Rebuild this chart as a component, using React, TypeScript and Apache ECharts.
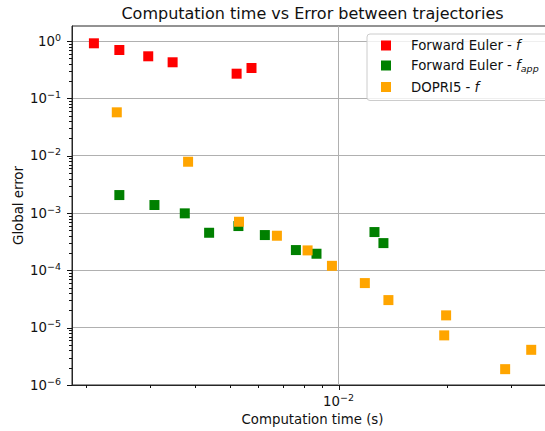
import React, { useEffect, useRef } from 'react';
import * as echarts from 'echarts';

const FONT = '"DejaVu Sans", "Liberation Sans", sans-serif';
const INK = '#111111';

// Forward Euler with the exact right-hand side f
const eulerTime = [0.0021, 0.00247, 0.00297, 0.00347, 0.00522, 0.00574];
const eulerError = [0.915, 0.699, 0.543, 0.427, 0.27, 0.339];

// Forward Euler with the approximated right-hand side f_app
const eulerAppTime = [0.00247, 0.00309, 0.00375, 0.00438, 0.00528, 0.00625, 0.00762, 0.00869, 0.01258, 0.01332];
const eulerAppError = [2.06e-3, 1.38e-3, 9.88e-4, 4.53e-4, 5.93e-4, 4.13e-4, 2.26e-4, 1.95e-4, 4.66e-4, 2.99e-4];

// DOPRI5 with the exact right-hand side f
const dopriTime = [0.00243, 0.00383, 0.0053, 0.00675, 0.00821, 0.00959, 0.01183, 0.01375, 0.01987, 0.01963, 0.02896, 0.0342];
const dopriError = [5.72e-2, 7.86e-3, 7.05e-4, 4.02e-4, 2.23e-4, 1.2e-4, 6.0e-5, 3.03e-5, 1.64e-5, 7.34e-6, 1.89e-6, 4.11e-6];

const seriesNames = ['Forward Euler - f', 'Forward Euler - f_app', 'DOPRI5 - f'];
const seriesColors = ['#ff0000', '#008000', '#ffa500'];

const legendText: Record<string, string> = {
  'Forward Euler - f': '{g| }{t|Forward Euler - }{i|f}',
  'Forward Euler - f_app': '{g| }{t|Forward Euler - }{i|f}{s|app}',
  'DOPRI5 - f': '{g| }{t|DOPRI5 - }{i|f}',
};

// axis extents
const X_MIN = 1.826e-3;
const X_MAX = 0.0393;
const Y_MIN = 1e-6;
const Y_MAX = 1.834;

// decade tick marks (log axes)
const xMajorTicks = [1e-2];
const yMajorTicks = [1e-6, 1e-5, 1e-4, 1e-3, 1e-2, 1e-1, 1];

function minorTicks(lo: number, hi: number): number[] {
  const out: number[] = [];
  for (let k = -7; k <= 1; k++) {
    for (let m = 2; m <= 9; m++) {
      const v = m * Math.pow(10, k);
      if (v > lo && v < hi) out.push(v);
    }
  }
  return out;
}

const powLabel = (v: number) => {
  const e = Math.round(Math.log10(v));
  const exp = e < 0 ? '\u2212' + Math.abs(e) : String(e);
  return `{b|10}{e|${exp}}`;
};

const tickRich = {
  b: { fontFamily: FONT, fontSize: 13.3, color: INK, lineHeight: 18 },
  e: { fontFamily: FONT, fontSize: 9.5, color: INK, lineHeight: 11, verticalAlign: 'top' },
};

export default function App() {
  const ref = useRef<HTMLDivElement>(null);

  useEffect(() => {
    if (!ref.current) return;
    const chart = echarts.init(ref.current, undefined, { renderer: 'svg' });

    const scatter = (name: string, xs: number[], ys: number[], color: string) => ({
      type: 'scatter',
      name,
      data: xs.map((x, i) => [x, ys[i]]),
      symbol: 'rect',
      symbolSize: 10,
      itemStyle: { color, opacity: 1 },
      emphasis: { disabled: true },
      z: 3,
    });

    const tickSeries = (axis: 'x' | 'y', majors: number[], minors: number[]) => ({
      type: 'custom',
      silent: true,
      clip: false,
      z: 6,
      data: [
        ...majors.map((v) => (axis === 'x' ? [v, Y_MIN, 5] : [X_MIN, v, 5])),
        ...minors.map((v) => (axis === 'x' ? [v, Y_MIN, 3] : [X_MIN, v, 3])),
      ],
      renderItem: (_params: any, api: any) => {
        const p = api.coord([api.value(0), api.value(1)]);
        const len = api.value(2);
        if (axis === 'x') {
          const x = Math.round(p[0]) + 0.5;
          const y = Math.round(p[1]);
          return { type: 'line', shape: { x1: x, y1: y, x2: x, y2: y + len }, style: { stroke: INK, lineWidth: 1 } };
        }
        const y = Math.round(p[1]) + 0.5;
        const x = Math.round(p[0]);
        return { type: 'line', shape: { x1: x, y1: y, x2: x - len, y2: y }, style: { stroke: INK, lineWidth: 1 } };
      },
    });

    chart.setOption({
      animation: false,
      backgroundColor: '#ffffff',
      textStyle: { fontFamily: FONT },
      graphic: [
        {
          type: 'text',
          x: 312.5,
          y: 13,
          style: {
            text: 'Computation time vs Error between trajectories',
            fontFamily: FONT,
            fontSize: 16,
            fill: INK,
            align: 'center',
            verticalAlign: 'middle',
          },
        },
      ],
      grid: {
        left: 72,
        top: 26,
        right: -8,
        bottom: 46,
        show: true,
        borderColor: '#262626',
        borderWidth: 1,
        outerBoundsMode: 'none',
      },
      legend: {
        data: seriesNames,
        orient: 'vertical',
        left: 367,
        top: 34,
        padding: [5, 40, 7, 14],
        itemWidth: 10,
        itemHeight: 10,
        itemGap: 7,
        icon: 'rect',
        borderColor: '#cccccc',
        borderWidth: 1,
        borderRadius: 3,
        backgroundColor: 'rgba(255,255,255,0.8)',
        formatter: (name: string) => legendText[name] ?? name,
        textStyle: {
          fontFamily: FONT,
          fontSize: 13.3,
          color: INK,
          rich: {
            g: { width: 15, fontSize: 13.3, lineHeight: 16 },
            t: { fontFamily: FONT, fontSize: 13.3, color: INK, lineHeight: 16 },
            i: { fontFamily: FONT, fontSize: 13.3, fontStyle: 'italic', color: INK, lineHeight: 16 },
            s: { fontFamily: FONT, fontSize: 9.5, fontStyle: 'italic', color: INK, lineHeight: 11, verticalAlign: 'bottom' },
          },
        },
      },
      xAxis: {
        type: 'log',
        logBase: 10,
        min: X_MIN,
        max: X_MAX,
        name: 'Computation time (s)',
        nameLocation: 'middle',
        nameGap: 28,
        nameMoveOverlap: false,
        nameTextStyle: { fontFamily: FONT, fontSize: 13.3, color: INK },
        axisLine: { show: true, lineStyle: { color: '#262626', width: 1 } },
        axisTick: { show: false },
        minorTick: { show: false },
        splitLine: { show: true, showMinLine: false, showMaxLine: false, lineStyle: { color: '#b0b0b0', width: 1 } },
        axisLabel: {
          show: true,
          showMinLabel: false,
          showMaxLabel: false,
          margin: 7,
          formatter: powLabel,
          rich: tickRich,
        },
      },
      yAxis: {
        type: 'log',
        logBase: 10,
        min: Y_MIN,
        max: Y_MAX,
        name: 'Global error',
        nameLocation: 'middle',
        nameGap: 47,
        nameMoveOverlap: false,
        nameTextStyle: { fontFamily: FONT, fontSize: 13.3, color: INK },
        axisLine: { show: true, lineStyle: { color: '#262626', width: 1 } },
        axisTick: { show: false },
        minorTick: { show: false },
        splitLine: { show: true, showMinLine: false, showMaxLine: false, lineStyle: { color: '#b0b0b0', width: 1 } },
        axisLabel: {
          show: true,
          showMinLabel: true,
          showMaxLabel: false,
          margin: 11,
          formatter: powLabel,
          rich: tickRich,
        },
      },
      series: [
        scatter(seriesNames[0], eulerTime, eulerError, seriesColors[0]),
        scatter(seriesNames[1], eulerAppTime, eulerAppError, seriesColors[1]),
        scatter(seriesNames[2], dopriTime, dopriError, seriesColors[2]),
        tickSeries('x', xMajorTicks, minorTicks(X_MIN, X_MAX)),
        tickSeries('y', yMajorTicks, minorTicks(Y_MIN, Y_MAX)),
      ],
    });

    return () => chart.dispose();
  }, []);

  return <div ref={ref} style={{ position: 'fixed', left: 0, top: 0, width: 545, height: 431 }} />;
}
